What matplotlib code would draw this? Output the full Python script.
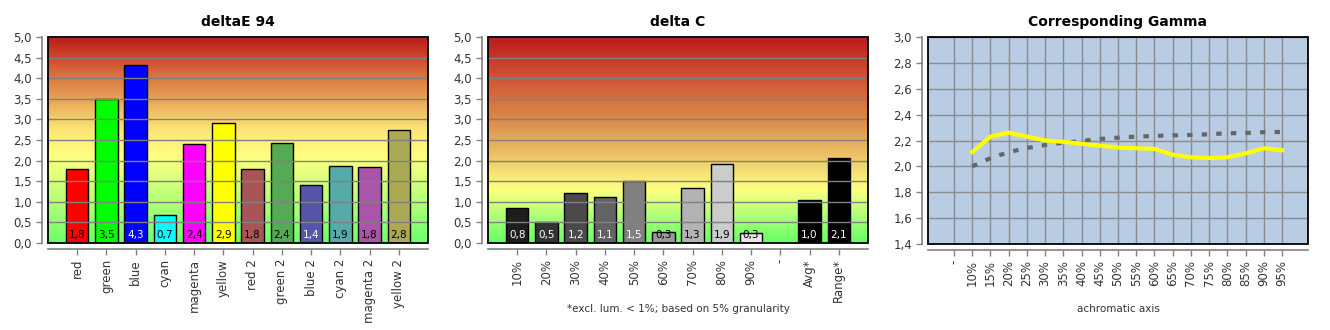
import matplotlib
matplotlib.use("Agg")
import matplotlib.pyplot as plt
import numpy as np
from matplotlib.colors import LinearSegmentedColormap
from matplotlib.patches import Rectangle

# deltaE 94
de_labels = ["red", "green", "blue", "cyan", "magenta", "yellow",
             "red 2", "green 2", "blue 2", "cyan 2", "magenta 2", "yellow 2"]
de_values = [1.8, 3.5, 4.33, 0.67, 2.4, 2.92, 1.8, 2.43, 1.4, 1.88, 1.85, 2.75]
de_text = ["1,8", "3,5", "4,3", "0,7", "2,4", "2,9", "1,8", "2,4", "1,4", "1,9", "1,8", "2,8"]
de_colors = ["#ff0000", "#00ff00", "#0000ff", "#00ffff", "#ff00ff", "#ffff00",
             "#aa5555", "#55aa55", "#5555aa", "#55aaaa", "#aa55aa", "#aaaa55"]
de_txtcol = ["k", "k", "w", "k", "k", "k", "k", "k", "w", "k", "k", "k"]

# delta C
dc_labels = ["10%", "20%", "30%", "40%", "50%", "60%", "70%", "80%", "90%", "-", "Avg*", "Range*"]
dc_values = [0.84, 0.5, 1.22, 1.12, 1.5, 0.27, 1.33, 1.92, 0.25, 0, 1.05, 2.07]
dc_text = ["0,8", "0,5", "1,2", "1,1", "1,5", "0,3", "1,3", "1,9", "0,3", "", "1,0", "2,1"]
dc_colors = ["#1e1e1e", "#333333", "#4a4a4a", "#636363", "#808080", "#999999",
             "#b3b3b3", "#cccccc", "#e6e6e6", "#ffffff", "#000000", "#000000"]
dc_txtcol = ["w", "w", "w", "w", "w", "k", "k", "k", "k", "k", "w", "w"]

# Corresponding Gamma
g_labels = ["-", "10%", "15%", "20%", "25%", "30%", "35%", "40%", "45%", "50%",
            "55%", "60%", "65%", "70%", "75%", "80%", "85%", "90%", "95%"]
g_measured = [2.11, 2.23, 2.26, 2.23, 2.20, 2.19, 2.175, 2.16, 2.145, 2.14,
              2.135, 2.09, 2.07, 2.065, 2.07, 2.10, 2.14, 2.125]
g_target = [2.0, 2.064, 2.11, 2.142, 2.165, 2.183, 2.196, 2.212, 2.222, 2.23,
            2.235, 2.24, 2.243, 2.248, 2.256, 2.258, 2.264, 2.266]

TXT = "#333333"
GRID = "#808080"

fig = plt.figure(figsize=(13.3, 3.3), dpi=100)


def style_axes(ax):
    for s in ["top", "right"]:
        ax.spines[s].set_visible(False)
    for s in ["left", "bottom"]:
        ax.spines[s].set_position(("outward", 4))
        ax.spines[s].set_color(GRID)
        ax.spines[s].set_linewidth(1.2)
    ax.tick_params(colors=GRID, labelcolor=TXT, labelsize=8.5, length=4, width=1)
    ax.tick_params(axis="x", labelrotation=90)
    ax.add_patch(Rectangle((0, 0), 1, 1, transform=ax.transAxes, fill=False,
                           edgecolor="black", lw=1.3, zorder=5, clip_on=False))


def bar_panel(rect, title, labels, values, colors, texts, tcols, stops):
    ax = fig.add_axes(rect)
    cmap = LinearSegmentedColormap.from_list("bg", stops)
    grad = np.linspace(0, 1, 256).reshape(-1, 1)
    ax.imshow(grad, aspect="auto", cmap=cmap, origin="lower",
              extent=(-1, len(labels), 0, 5), zorder=0)
    x = np.arange(len(labels))
    ax.set_yticks(np.arange(0, 5.01, 0.5))
    ax.set_yticklabels([f"{v:.1f}".replace(".", ",") for v in np.arange(0, 5.01, 0.5)])
    ax.yaxis.grid(True, color=GRID, lw=1)
    ax.set_axisbelow(False)
    for gl in ax.get_ygridlines():
        gl.set_zorder(1)
    ax.bar(x, values, width=0.77, color=colors, edgecolor="black", lw=1, zorder=2)
    for xi, t, c in zip(x, texts, tcols):
        ax.text(xi, 0.2, t, ha="center", va="center", fontsize=7.5, color=c, zorder=3)
    ax.set_xlim(-1, len(labels))
    ax.set_ylim(0, 5)
    ax.set_xticks(x)
    ax.set_xticklabels(labels)
    ax.set_title(title, fontsize=10, fontweight="bold", pad=8)
    style_axes(ax)
    return ax


bar_panel([48 / 1330, 87 / 330, 380 / 1330, 206 / 330], "deltaE 94",
          de_labels, de_values, de_colors, de_text, de_txtcol,
          [(0.0, "#6cff6c"), (0.2, "#b4ff78"), (0.42, "#ffff80"),
           (0.55, "#fae676"), (0.7, "#e8a458"), (0.82, "#d8703e"), (1.0, "#be1a1a")])

bar_panel([488 / 1330, 87 / 330, 380 / 1330, 206 / 330], "delta C",
          dc_labels, dc_values, dc_colors, dc_text, dc_txtcol,
          [(0.0, "#66ff66"), (0.12, "#a8ff78"), (0.26, "#ffff80"),
           (0.42, "#ecc468"), (0.6, "#da8a4c"), (0.8, "#ce5634"), (1.0, "#be1a1a")])
fig.text(678 / 1330, 1 - 309 / 330, "*excl. lum. < 1%; based on 5% granularity",
         ha="center", va="center", fontsize=7.5, color=TXT)

# gamma panel
ax3 = fig.add_axes([928 / 1330, 86 / 330, 380 / 1330, 207 / 330])
ax3.set_facecolor("#b8cce4")
xg = np.arange(len(g_labels))
ax3.plot(xg[1:], g_target, color="#666666", lw=3, ls=(0, (1.3, 2.2)), zorder=2)
ax3.plot(xg[1:], g_measured, color="#ffff00", lw=3, zorder=3)
ax3.set_xlim(-1.43, len(g_labels) - 1 + 1.43)
ax3.set_ylim(1.4, 3.0)
yt = np.arange(1.4, 3.01, 0.2)
ax3.set_yticks(yt)
ax3.set_yticklabels([f"{v:.1f}".replace(".", ",") for v in yt])
ax3.set_xticks(xg)
ax3.set_xticklabels(g_labels)
ax3.grid(True, color="#8c8c8c", lw=1)
ax3.set_axisbelow(True)
ax3.set_title("Corresponding Gamma", fontsize=10, fontweight="bold", pad=8)
style_axes(ax3)
fig.text(1118 / 1330, 1 - 309 / 330, "achromatic axis",
         ha="center", va="center", fontsize=7.5, color=TXT)

fig.savefig("out.png", dpi=100)
